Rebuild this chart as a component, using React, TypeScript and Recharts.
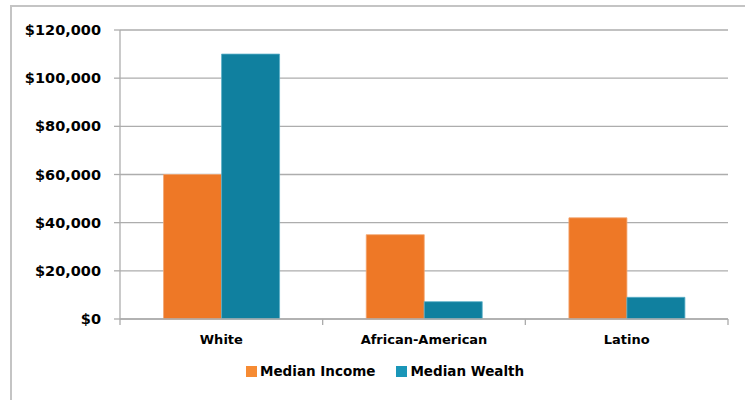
import { BarChart, Bar, XAxis, YAxis, CartesianGrid, Legend } from 'recharts';

// values
const groups = ['White', 'African-American', 'Latino'];
const medianIncome = [60000, 35000, 42000];
const medianWealth = [110000, 7200, 9000];
const yTicks = [0, 20000, 40000, 60000, 80000, 100000, 120000];

const seriesNames = ['Median Income', 'Median Wealth'];
const seriesColors = ['#EE7826', '#10809F'];
const legendColors = ['#F68B33', '#1A96B8'];

const data = groups.map((g, i) => ({
  group: g,
  income: medianIncome[i],
  wealth: medianWealth[i],
}));

const font = "'DejaVu Sans', sans-serif";

const CategoryTick = (props: any) => {
  const { x, y, payload, index } = props;
  const half = payload?.offset ?? 101;
  const axisY = y - 16;
  return (
    <g>
      {index === 0 && (
        <line x1={x - half} x2={x - half} y1={axisY} y2={axisY + 6} stroke="#ABABAB" strokeWidth={1.3} />
      )}
      <line x1={x + half} x2={x + half} y1={axisY} y2={axisY + 6} stroke="#ABABAB" strokeWidth={1.3} />
      <text
        x={x}
        y={y}
        dy="0.71em"
        textAnchor="middle"
        fill="#000"
        fontSize={13}
        fontWeight={700}
        fontFamily={font}
      >
        {payload.value}
      </text>
    </g>
  );
};

const LegendContent = () => (
  <div style={{ display: 'flex', alignItems: 'center', fontFamily: font, fontSize: 13.5, fontWeight: 700, color: '#000' }}>
    {seriesNames.map((name, i) => (
      <div key={name} style={{ display: 'flex', alignItems: 'center', marginRight: 21 }}>
        <span style={{ width: 11, height: 11, background: legendColors[i], display: 'inline-block', marginRight: 3 }} />
        <span>{name}</span>
      </div>
    ))}
  </div>
);

const App = () => {
  return (
    <div style={{ position: 'absolute', left: 0, top: 0, width: 745, height: 400, overflow: 'hidden', background: '#fff' }}>
      <div
        style={{
          position: 'absolute',
          left: 10,
          top: 5,
          width: 760,
          height: 420,
          border: '2px solid #C4C4C4',
        }}
      />
      <div style={{ position: 'absolute', left: 0, top: 0 }}>
        <BarChart
          width={745}
          height={400}
          data={data}
          margin={{ top: 30, right: 17, bottom: 0, left: 0 }}
          barCategoryGap="21.5%"
          barGap={0}
        >
          <CartesianGrid vertical={false} stroke="#ADADAD" strokeWidth={1.3} />
          <XAxis
            dataKey="group"
            height={81}
            axisLine={{ stroke: '#ADADAD', strokeWidth: 1.3 }}
            tickLine={false}
            tickSize={6}
            tickMargin={10}
            interval={0}
            tick={<CategoryTick />}
          />
          <YAxis
            width={120}
            domain={[0, 120000]}
            ticks={yTicks}
            interval={0}
            axisLine={{ stroke: '#ADADAD', strokeWidth: 1.3 }}
            tickLine={{ stroke: '#ADADAD', strokeWidth: 1.3 }}
            tickSize={6}
            tickMargin={13}
            tick={{ fill: '#000', fontSize: 14.5, fontWeight: 700, fontFamily: font }}
            tickFormatter={(v: number) => `$${v.toLocaleString('en-US')}`}
          />
          <Legend
            layout="horizontal"
            verticalAlign="middle"
            align="center"
            content={<LegendContent />}
            wrapperStyle={{ top: 363, left: 246, width: 320, height: 14 }}
          />
          <Bar dataKey="income" name={seriesNames[0]} fill={seriesColors[0]} stroke="#F3A46E" strokeWidth={0.8} isAnimationActive={false} />
          <Bar dataKey="wealth" name={seriesNames[1]} fill={seriesColors[1]} stroke="#5AAFC8" strokeWidth={0.8} isAnimationActive={false} />
        </BarChart>
      </div>
    </div>
  );
};

export default App;
